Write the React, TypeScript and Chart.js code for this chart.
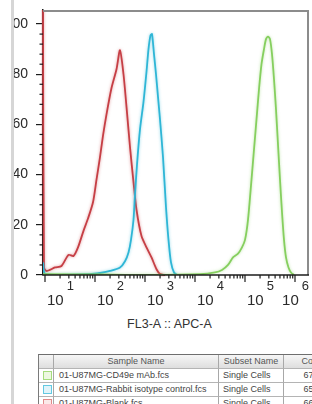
import React, { useEffect, useRef } from 'react';
import { Chart, registerables } from 'chart.js';

Chart.register(...registerables);

// ---- Data (x in decades: log10 of FL3-A :: APC-A intensity, y = % of max count) ----
const redX = [0.96, 0.98, 1.03, 1.2, 1.33, 1.47, 1.57, 1.66, 1.77, 1.86, 1.96, 2.03, 2.1, 2.16, 2.23, 2.33, 2.43, 2.5, 2.57, 2.63, 2.7, 2.77, 2.83, 2.93, 3.03, 3.13, 3.23, 3.3, 3.4];
const redY = [110, 3, 1.6, 3, 3.6, 8, 7.6, 11, 17.6, 22.5, 29, 38, 47, 55.5, 64, 74.5, 82, 89.6, 80, 67, 51, 37, 26, 15.5, 11, 7, 2.3, 0.4, 0];

const cyanX = [0.96, 1.0, 1.3, 1.9, 2.1, 2.3, 2.5, 2.6, 2.67, 2.72, 2.77, 2.8, 2.84, 2.9, 2.97, 3.03, 3.07, 3.11, 3.14, 3.18, 3.22, 3.26, 3.3, 3.36, 3.42, 3.47, 3.52, 3.58, 3.64];
const cyanY = [5, 0.5, 0, 0.3, 0.8, 1.6, 3, 5.5, 9, 14, 22, 32, 44, 58, 69, 81, 90, 95.5, 96, 88, 80, 71, 62, 47, 27, 14, 5, 1, 0];

const greenX = [0.96, 2.1, 3.1, 4.1, 4.4, 4.54, 4.66, 4.76, 4.86, 4.94, 5.0, 5.06, 5.13, 5.18, 5.23, 5.28, 5.33, 5.38, 5.42, 5.46, 5.5, 5.54, 5.58, 5.62, 5.66, 5.7, 5.74, 5.78, 5.82, 5.87, 5.92, 5.98];
const greenY = [0.3, 0.2, 0, 0.3, 1, 2, 4, 7, 8.5, 11, 14, 22, 38, 50, 62, 74, 84, 90, 94, 95, 94, 88, 78, 66, 52, 38, 25, 14, 7, 3, 1, 0];

const xDecades = [1, 2, 3, 4, 5, 6];
const xMin = 0.96;
const xMax = 6.28;
const yMin = 0;
const yMax = 105.6;
const yStep = 20;
const yMinorStep = 4;
const axisTitle = 'FL3-A :: APC-A';

const headers = ['', 'Sample Name', 'Subset Name', 'Count'];
const sampleNames = ['01-U87MG-CD49e mAb.fcs', '01-U87MG-Rabbit isotype control.fcs', '01-U87MG-Blank.fcs'];
const subsetNames = ['Single Cells', 'Single Cells', 'Single Cells'];
const counts = ['6725', '6526', '6621'];

const lineColors = ['#86cf5f', '#2fb6d6', '#c63f45'];
const swatchBorders = ['#a6dc7e', '#63c9e2', '#e08a8a'];
const swatchFills = ['#eef8e2', '#e0f4fa', '#fbe9e9'];

const FONT = '"Liberation Sans", Arial, Helvetica, sans-serif';

const toPoints = (xs: number[], ys: number[]) => xs.map((x, i) => ({ x, y: ys[i] }));

const axisPlugin = {
  id: 'flowAxes',
  beforeDatasetDraw(chart: any, args: any) {
    const ctx = chart.ctx;
    const ds = chart.data.datasets[args.index];
    ctx.save();
    ctx.shadowColor = ds.borderColor + '88';
    ctx.shadowBlur = 3;
  },
  afterDatasetDraw(chart: any) {
    chart.ctx.restore();
  },
  afterDraw(chart: any) {
    const { ctx, chartArea: a, scales } = chart;
    const x = scales.x;
    const y = scales.y;
    ctx.save();
    ctx.shadowBlur = 0;
    ctx.shadowColor = 'rgba(0,0,0,0)';
    // grey frame (top and right)
    ctx.fillStyle = '#8c8c8c';
    ctx.fillRect(a.left, a.top, a.right - a.left, 2);
    ctx.fillRect(a.right - 2, a.top, 2, a.bottom - a.top);
    // bottom axis
    ctx.fillStyle = '#1c1c1c';
    ctx.fillRect(a.left - 0.75, a.bottom - 0.75, a.right - a.left + 0.75, 1.5);
    // log ticks
    ctx.strokeStyle = '#1c1c1c';
    ctx.lineWidth = 1.2;
    for (let n = Math.floor(xMin); n <= Math.ceil(xMax); n++) {
      for (let k = 1; k <= 9; k++) {
        const v = n + Math.log10(k);
        if (v < xMin - 1e-9 || v > xMax) continue;
        const px = x.getPixelForValue(v);
        const len = k === 1 ? 7 : 3.5;
        ctx.beginPath();
        ctx.moveTo(px, a.bottom);
        ctx.lineTo(px, a.bottom + len);
        ctx.stroke();
      }
    }
    // y minor ticks
    for (let v = yMin; v <= 100; v += yMinorStep) {
      if (v % yStep === 0) continue;
      const py = y.getPixelForValue(v);
      ctx.beginPath();
      ctx.moveTo(a.left, py);
      ctx.lineTo(a.left - 3.5, py);
      ctx.stroke();
    }
    // decade labels 10^n
    ctx.fillStyle = '#2a2a2a';
    ctx.textBaseline = 'alphabetic';
    ctx.textAlign = 'left';
    const baseFont = `15px ${FONT}`;
    const supFont = `13px ${FONT}`;
    xDecades.forEach((n) => {
      const px = x.getPixelForValue(n);
      ctx.font = baseFont;
      const w10 = ctx.measureText('10').width;
      ctx.font = supFont;
      const wSup = ctx.measureText(String(n)).width;
      let left = px + 2;
      const total = w10 + 3 + wSup;
      if (left + total > a.right) left = a.right - total;
      ctx.font = baseFont;
      ctx.fillText('10', left, a.bottom + 30);
      ctx.font = supFont;
      ctx.fillText(String(n), left + w10 + 3, a.bottom + 15);
    });
    ctx.restore();
  },
};

export default function App() {
  const ref = useRef<HTMLCanvasElement>(null);

  useEffect(() => {
    document.body.style.margin = '0';
    const chart = new Chart(ref.current as HTMLCanvasElement, {
      type: 'line',
      data: {
        datasets: [
          { label: sampleNames[0], data: toPoints(greenX, greenY), borderColor: lineColors[0] },
          { label: sampleNames[1], data: toPoints(cyanX, cyanY), borderColor: lineColors[1] },
          {
            label: sampleNames[2],
            data: toPoints(redX, redY),
            borderColor: lineColors[2],
            clip: { left: 2, top: 0, right: 0, bottom: 2 } as any,
          },
        ].map((d) => ({
          ...d,
          borderWidth: 1.8,
          pointRadius: 0,
          pointHoverRadius: 0,
          tension: 0.25,
          fill: false,
        })),
      },
      options: {
        animation: false,
        responsive: false,
        devicePixelRatio: 1,
        layout: { autoPadding: false, padding: { top: 10, right: 3, left: 0, bottom: 0 } },
        plugins: { legend: { display: false }, tooltip: { enabled: false }, title: { display: false } },
        scales: {
          x: {
            type: 'linear',
            min: xMin,
            max: xMax,
            afterFit: (s: any) => {
              s.height = 37;
              s.paddingLeft = 0;
              s.paddingRight = 0;
            },
            ticks: { display: false },
            grid: { display: false },
            border: { display: false },
          },
          y: {
            type: 'linear',
            min: yMin,
            max: yMax,
            afterFit: (s: any) => {
              s.width = 43;
              s.paddingTop = 0;
              s.paddingBottom = 0;
            },
            ticks: {
              stepSize: yStep,
              includeBounds: false,
              padding: 8,
              color: '#2a2a2a',
              font: { family: FONT, size: 14 },
            },
            grid: {
              drawOnChartArea: false,
              drawTicks: true,
              tickLength: 7,
              color: '#1c1c1c',
              lineWidth: 1.2,
            },
            border: { display: true, color: '#1c1c1c', width: 1.5 },
          },
        },
      },
      plugins: [axisPlugin],
    } as any);
    return () => chart.destroy();
  }, []);

  const colW = [15, 165, 65, 60];
  const rowH = [14, 14, 13.5, 13.5];
  const lefts = colW.map((_, i) => colW.slice(0, i).reduce((s, v) => s + v, 0));
  const tops = rowH.map((_, i) => rowH.slice(0, i).reduce((s, v) => s + v, 0));

  const cell = (r: number, c: number, content: React.ReactNode, extra: React.CSSProperties = {}) => (
    <div
      key={`${r}-${c}`}
      style={{
        position: 'absolute',
        left: lefts[c],
        top: tops[r],
        width: colW[c],
        height: rowH[r],
        boxSizing: 'border-box',
        borderRight: '1px solid #a8a8a8',
        borderBottom: '1px solid #b4b4b4',
        lineHeight: `${rowH[r] - 1}px`,
        fontSize: 9,
        color: '#444',
        whiteSpace: 'nowrap',
        overflow: 'hidden',
        ...extra,
      }}
    >
      {content}
    </div>
  );

  const rows = sampleNames.map((name, i) => [
    cell(i + 1, 0, (
      <div
        style={{
          position: 'absolute',
          left: 4,
          top: 2,
          width: 9,
          height: 9,
          boxSizing: 'border-box',
          border: `1.5px solid ${swatchBorders[i]}`,
          background: swatchFills[i],
        }}
      />
    )),
    cell(i + 1, 1, name, { paddingLeft: 5 }),
    cell(i + 1, 2, subsetNames[i], { paddingLeft: 4 }),
    cell(i + 1, 3, counts[i], { textAlign: 'center' }),
  ]);

  return (
    <div
      style={{
        position: 'absolute',
        left: 0,
        top: 0,
        width: 312,
        height: 404,
        overflow: 'hidden',
        background: '#fff',
        fontFamily: FONT,
      }}
    >
      <canvas ref={ref} width={312} height={312} style={{ position: 'absolute', left: 0, top: 0, display: 'block' }} />
      <div style={{ position: 'absolute', left: 0, top: 0, width: 11, height: 404, background: '#fff' }} />
      <div style={{ position: 'absolute', left: 11, top: 0, width: 2.5, height: 404, background: '#d6d6d6' }} />
      <div
        style={{
          position: 'absolute',
          left: 100,
          top: 317,
          width: 139,
          textAlign: 'center',
          fontSize: 12.5,
          lineHeight: '15px',
          color: '#333',
        }}
      >
        {axisTitle}
      </div>
      <div
        style={{
          position: 'absolute',
          left: 38,
          top: 354,
          width: 320,
          height: 60,
          borderLeft: '1px solid #7a7a7a',
          borderTop: '1.5px solid #6e6e6e',
          boxSizing: 'border-box',
        }}
      >
        {headers.map((h, c) =>
          cell(0, c, h, {
            textAlign: 'center',
            background: 'linear-gradient(#f6f6f6, #dedede)',
            color: '#555',
            fontSize: 9,
          })
        )}
        {rows}
      </div>
    </div>
  );
}
